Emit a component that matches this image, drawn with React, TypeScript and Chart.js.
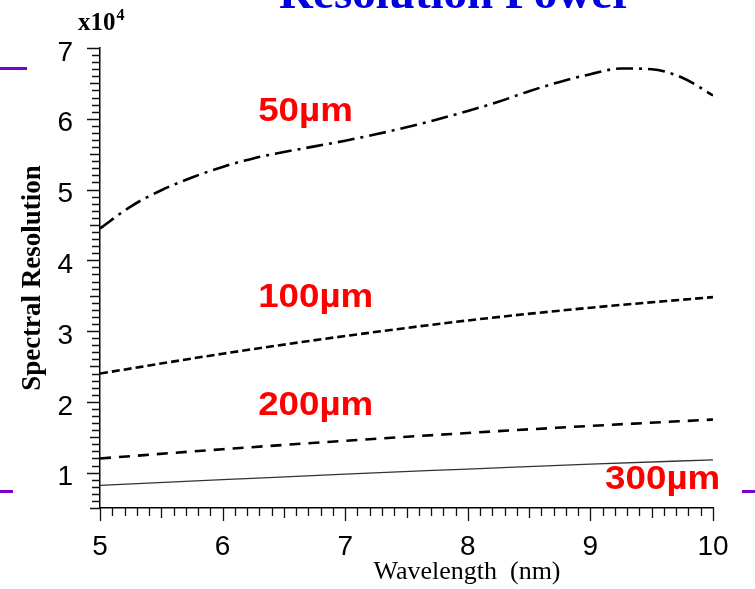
import React, { useEffect, useRef } from "react";
import { Chart, registerables } from "chart.js";

Chart.register(...registerables);

// ---- data (values in units of 10^4) ----
const wl50 = [5, 5.25, 5.5, 5.75, 6, 6.25, 6.5, 6.75, 7, 7.25, 7.5, 7.75, 8, 8.25, 8.5, 8.75, 9, 9.25, 9.5, 9.75, 10];
const res50 = [4.45, 4.76, 4.99, 5.17, 5.32, 5.44, 5.53, 5.61, 5.69, 5.78, 5.88, 5.99, 6.11, 6.24, 6.39, 6.52, 6.63, 6.71, 6.70, 6.58, 6.33];
const wlLin = [5, 6, 7, 8, 9, 10];
const res100 = [2.40, 2.68, 2.93, 3.15, 3.33, 3.48];
const res200 = [1.20, 1.33, 1.45, 1.56, 1.66, 1.75];
const res300 = [0.82, 0.90, 0.98, 1.05, 1.12, 1.18];

const xTickValues = [5, 6, 7, 8, 9, 10];
const yTickValues = [1, 2, 3, 4, 5, 6, 7];

const seriesLabels = ["50µm", "100µm", "200µm", "300µm"];
// label anchor (left x, baseline y) in data units
const labelX = [6.29, 6.29, 6.29, 9.12];
const labelY = [5.97, 3.34, 1.81, 0.77];

const titleText = "Resolution Power";
const xTitle = "Wavelength  (nm)";
const yTitle = "Spectral Resolution";

const pts = (xs: number[], ys: number[]) => xs.map((x, i) => ({ x, y: ys[i] }));

const decorPlugin = {
  id: "decor",
  afterDraw(chart: any) {
    const ctx = chart.ctx as CanvasRenderingContext2D;
    const xs = chart.scales.x;
    const ys = chart.scales.y;
    const area = chart.chartArea;
    ctx.save();
    // minor / major ticks
    ctx.strokeStyle = "#111";
    ctx.lineWidth = 1.3;
    ctx.beginPath();
    for (let i = 0; i <= 50; i++) {
      const v = 5 + i * 0.1;
      const px = Math.round(xs.getPixelForValue(v)) + 0.5;
      const len = i % 10 === 0 ? 13 : i % 5 === 0 ? 10 : 8;
      ctx.moveTo(px, area.bottom);
      ctx.lineTo(px, area.bottom + len);
    }
    for (let i = 5; i <= 70; i++) {
      const v = i / 10;
      const py = Math.round(ys.getPixelForValue(v)) + 0.5;
      const len = i % 10 === 0 ? 13 : i % 5 === 0 ? 10 : 8;
      ctx.moveTo(area.left - len, py);
      ctx.lineTo(area.left, py);
    }
    ctx.stroke();

    // series labels
    ctx.fillStyle = "#ff0000";
    ctx.font = "bold 34px 'Liberation Sans', Arial, sans-serif";
    ctx.textAlign = "left";
    ctx.textBaseline = "alphabetic";
    seriesLabels.forEach((t, i) => {
      const px = xs.getPixelForValue(labelX[i]);
      const py = ys.getPixelForValue(labelY[i]);
      ctx.save();
      ctx.translate(px, py);
      ctx.scale(1.08, 1);
      ctx.fillText(t, 0, 0);
      ctx.restore();
    });

    // title (cut at top)
    ctx.fillStyle = "#0000e0";
    ctx.font = "bold 47px 'Liberation Serif', 'Times New Roman', serif";
    ctx.textAlign = "center";
    ctx.fillText(titleText, 456, 8);

    // exponent
    ctx.fillStyle = "#000";
    ctx.textAlign = "left";
    ctx.font = "bold 25px 'Liberation Serif', 'Times New Roman', serif";
    ctx.fillText("x10", 78, 30);
    const w = ctx.measureText("x10").width;
    ctx.font = "bold 16px 'Liberation Serif', 'Times New Roman', serif";
    ctx.fillText("4", 78 + w + 1, 20);

    // x title
    ctx.font = "26px 'Liberation Serif', 'Times New Roman', serif";
    ctx.textAlign = "center";
    ctx.fillText(xTitle, 467, 579);

    // purple slide rules
    ctx.fillStyle = "#7a00cc";
    ctx.fillRect(0, 67, 27, 3);
    ctx.fillRect(0, 490, 13, 3);
    ctx.fillRect(742, 490, 13, 3);
    ctx.restore();
  },
};

export default function App() {
  const ref = useRef<HTMLCanvasElement | null>(null);
  useEffect(() => {
    document.body.style.margin = "0";
    const canvas = ref.current;
    if (!canvas) return;
    const chart = new Chart(canvas, {
      type: "line",
      data: {
        datasets: [
          {
            label: seriesLabels[0],
            data: pts(wl50, res50),
            borderColor: "#000",
            borderWidth: 2.6,
            borderDash: [17, 6, 3, 6],
            pointRadius: 0,
            tension: 0.4,
            cubicInterpolationMode: "monotone",
            fill: false,
          },
          {
            label: seriesLabels[1],
            data: pts(wlLin, res100),
            borderColor: "#000",
            borderWidth: 2.6,
            borderDash: [8, 4],
            pointRadius: 0,
            tension: 0.4,
            cubicInterpolationMode: "monotone",
            fill: false,
          },
          {
            label: seriesLabels[2],
            data: pts(wlLin, res200),
            borderColor: "#000",
            borderWidth: 2.6,
            borderDash: [11, 8],
            pointRadius: 0,
            tension: 0.4,
            cubicInterpolationMode: "monotone",
            fill: false,
          },
          {
            label: seriesLabels[3],
            data: pts(wlLin, res300),
            borderColor: "#333",
            borderWidth: 1.3,
            pointRadius: 0,
            tension: 0.4,
            cubicInterpolationMode: "monotone",
            fill: false,
          },
        ],
      },
      options: {
        animation: false,
        responsive: false,
        devicePixelRatio: 1,
        layout: { padding: { top: 48, right: 42, left: 0, bottom: 0 } },
        plugins: { legend: { display: false }, tooltip: { enabled: false } },
        scales: {
          x: {
            type: "linear",
            min: 5,
            max: 10,
            afterBuildTicks: (s: any) => {
              s.ticks = xTickValues.map((v) => ({ value: v }));
            },
            afterFit: (s: any) => {
              s.height = 81;
            },
            grid: { display: true, drawOnChartArea: false, drawTicks: false },
            border: { display: true, color: "#000", width: 1.5 },
            ticks: {
              color: "#000",
              padding: 22,
              maxRotation: 0,
              font: { family: "'Liberation Sans', Arial, sans-serif", size: 28 },
            },
          },
          y: {
            type: "linear",
            min: 0.5,
            max: 7,
            afterBuildTicks: (s: any) => {
              s.ticks = yTickValues.map((v) => ({ value: v }));
            },
            afterFit: (s: any) => {
              s.width = 100;
            },
            grid: { display: true, drawOnChartArea: false, drawTicks: false },
            border: { display: true, color: "#000", width: 1.5 },
            ticks: {
              color: "#000",
              padding: 27,
              labelOffset: 5,
              font: { family: "'Liberation Sans', Arial, sans-serif", size: 28 },
            },
            title: {
              display: true,
              text: yTitle,
              color: "#000",
              padding: { top: 17, bottom: 0 },
              font: { family: "'Liberation Serif', 'Times New Roman', serif", size: 27, weight: "bold" },
            },
          },
        },
      },
      plugins: [decorPlugin],
    } as any);
    return () => chart.destroy();
  }, []);
  return <canvas ref={ref} width={755} height={589} style={{ display: "block", width: 755, height: 589 }} />;
}
